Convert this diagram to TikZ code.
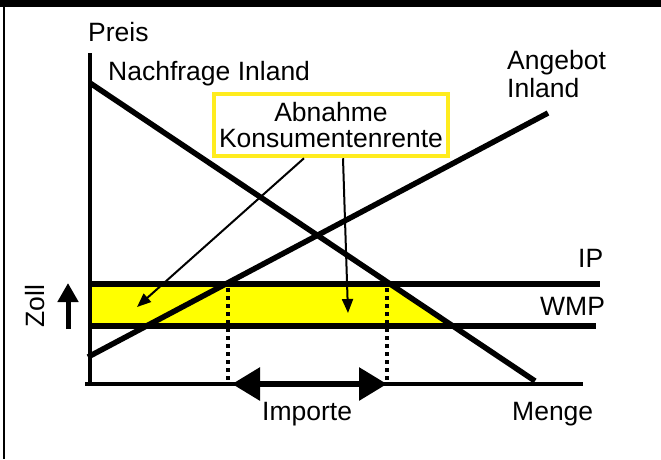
\documentclass[tikz,border=0pt]{standalone}
\usepackage{fontspec}
\setmainfont{Liberation Sans}
\usetikzlibrary{arrows.meta,calc}
\definecolor{bandyellow}{RGB}{255,255,0}
\definecolor{boxyellow}{RGB}{255,236,30}
\begin{document}
\begin{tikzpicture}[x=1pt,y=-1pt,
  font=\fontsize{26.5}{25.5}\selectfont,
  curve/.style={line width=5.5pt},
  level/.style={line width=6pt},
  axis/.style={line width=4.5pt},
  guide/.style={line width=4pt, dash pattern=on 4pt off 4pt},
  lbl/.style={inner sep=0pt, text=black},
  pointer/.style={line width=2pt, -{Triangle[length=14pt,width=11pt]}},
  bigarrow/.style={line width=6pt, {Triangle[length=28pt,width=32pt]}-{Triangle[length=28pt,width=32pt]}},
  zollarrow/.style={line width=5pt, -{Triangle[length=19pt,width=20pt]}},
]
\useasboundingbox (0,0) rectangle (661,459);
% frame
\fill[black] (0,0) rectangle (661,7);
\draw[line width=2.5pt] (4,7) -- (4,459);

% coordinates
\coordinate (ytop) at (90,53);
\coordinate (ybot) at (90,386);
\coordinate (xstart) at (85,384);
\coordinate (xend) at (583,384);
\coordinate (d1) at (90,83);
\coordinate (d2) at (535,381);
\coordinate (s1) at (88,357);
\coordinate (s2) at (548,113);
\coordinate (ip1) at (90,284);
\coordinate (ip2) at (600,284);
\coordinate (w1) at (90,326);
\coordinate (w2) at (596,326);
\coordinate (g1a) at (228,288);
\coordinate (g1b) at (228,382);
\coordinate (g2a) at (387,288);
\coordinate (g2b) at (387,382);
\coordinate (impL) at (232,384);
\coordinate (impR) at (387,384);
\coordinate (zA) at (68,329);
\coordinate (zB) at (68,283);
\coordinate (p1) at (137,307);
\coordinate (p2) at (348,313);

% yellow band
\fill[bandyellow] (90,286) -- (393,286) -- (451,324) -- (90,324) -- cycle;

% guides
\draw[guide] (g1a) -- (g1b);
\draw[guide] (g2a) -- (g2b);

% price levels
\draw[level] (ip1) -- (ip2);
\draw[level] (w1) -- (w2);

% axes
\draw[axis] (ybot) -- (ytop);
\draw[axis] (xstart) -- (xend);

% curves
\draw[curve] (d1) -- (d2);
\draw[curve] (s1) -- (s2);

% imports arrow
\draw[bigarrow] (impL) -- (impR);

% tariff arrow
\draw[zollarrow] (zA) -- (zB);

% box
\node[draw=boxyellow, line width=4.5pt, minimum width=234pt, minimum height=62pt,
      inner sep=0pt, align=center, text=black] (box) at (331,125) {Abnahme\\Konsumentenrente};
\draw[pointer] ([xshift=-27pt]box.south) -- (p1);
\draw[pointer] ([xshift=12pt]box.south) -- (p2);

% labels
\node[lbl, anchor=base west] (preis) at (88,41) {Preis};
\node[lbl, anchor=base west] (nachfrage) at (108,80) {Nachfrage Inland};
\node[lbl, anchor=base west] (angebot1) at (507,69) {Angebot};
\node[lbl, anchor=base west] (angebot2) at (507,97) {Inland};
\node[lbl, anchor=base west] (ip) at (578,267) {IP};
\node[lbl, anchor=base west] (wmp) at (540,315) {WMP};
\node[lbl, anchor=base west] (menge) at (512,420) {Menge};
\node[lbl, anchor=base west] (importe) at (262,420) {Importe};
\node[lbl, anchor=base, rotate=90] (zoll) at (44,306) {Zoll};
\end{tikzpicture}
\end{document}
